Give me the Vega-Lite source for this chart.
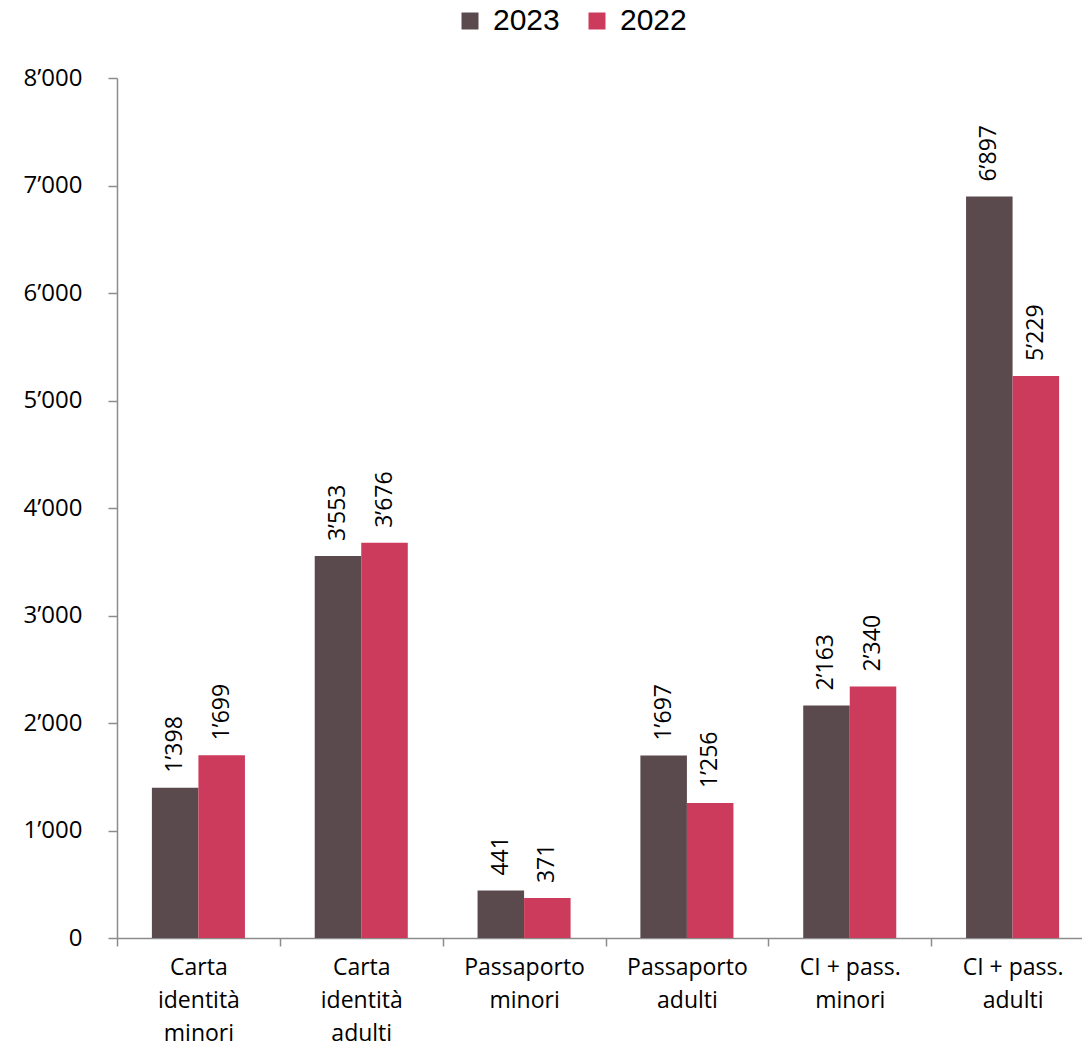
{
  "$schema": "https://vega.github.io/schema/vega-lite/v6.json",
  "autosize": {"type": "none"},
  "padding": {"left": 117, "top": 78, "right": 0, "bottom": 109},
  "width": 965,
  "height": 860,
  "config": {
    "locale": {"number": {"decimal": ".", "thousands": "’", "grouping": [3], "currency": ["", ""]}},
    "view": {"stroke": null},
    "font": "Open Sans"
  },
  "data": {
    "values": [
      {"categoria": "Carta identità minori", "anno": "2023", "valore": 1398},
      {"categoria": "Carta identità minori", "anno": "2022", "valore": 1699},
      {"categoria": "Carta identità adulti", "anno": "2023", "valore": 3553},
      {"categoria": "Carta identità adulti", "anno": "2022", "valore": 3676},
      {"categoria": "Passaporto minori", "anno": "2023", "valore": 441},
      {"categoria": "Passaporto minori", "anno": "2022", "valore": 371},
      {"categoria": "Passaporto adulti", "anno": "2023", "valore": 1697},
      {"categoria": "Passaporto adulti", "anno": "2022", "valore": 1256},
      {"categoria": "CI + pass. minori", "anno": "2023", "valore": 2163},
      {"categoria": "CI + pass. minori", "anno": "2022", "valore": 2340},
      {"categoria": "CI + pass. adulti", "anno": "2023", "valore": 6897},
      {"categoria": "CI + pass. adulti", "anno": "2022", "valore": 5229}
    ]
  },
  "encoding": {
    "x": {
      "field": "categoria", "type": "nominal", "sort": null,
      "scale": {"paddingInner": 0, "paddingOuter": 0, "range": [0, 977]},
      "axis": {
        "title": null, "labelAngle": 0, "tickBand": "extent",
        "domainColor": "#8c8c8c", "domainWidth": 1.5, "tickColor": "#8c8c8c", "tickWidth": 1.5, "tickSize": 8,
        "labelFont": "Open Sans", "labelFontSize": 23, "labelColor": "#000000", "labelLineHeight": 33, "labelPadding": 10,
        "labelExpr": "slice(datum.label, 0, 2) == 'CI' ? [slice(datum.label, 0, 10), slice(datum.label, 11)] : split(datum.label, ' ')"
      }
    },
    "xOffset": {"field": "anno", "type": "nominal", "sort": ["2023", "2022"], "scale": {"paddingInner": 0, "paddingOuter": 0.75}},
    "y": {
      "field": "valore", "type": "quantitative",
      "scale": {"domain": [0, 8000], "nice": false},
      "axis": {
        "title": null, "values": [0, 1000, 2000, 3000, 4000, 5000, 6000, 7000, 8000], "format": ",d", "grid": false,
        "domainColor": "#8c8c8c", "domainWidth": 1.5, "tickColor": "#8c8c8c", "tickWidth": 1.5, "tickSize": 9,
        "labelFont": "Open Sans", "labelFontSize": 24, "labelColor": "#000000", "labelPadding": 26
      }
    }
  },
  "layer": [
    {
      "mark": {"type": "bar"},
      "encoding": {
        "color": {
          "field": "anno", "type": "nominal",
          "scale": {"domain": ["2023", "2022"], "range": ["#5a4a4e", "#cc3a5c"]},
          "legend": {
            "title": null, "orient": "none", "direction": "horizontal", "legendX": 338, "legendY": -72,
            "symbolType": "square", "symbolSize": 289, "symbolStrokeWidth": 0, "symbolOpacity": 1,
            "labelFont": "Liberation Sans", "labelFontSize": 30, "labelColor": "#000000", "labelOffset": 8, "columnPadding": 22
          }
        }
      }
    },
    {
      "mark": {"type": "text", "angle": 270, "align": "left", "baseline": "middle", "dx": 15, "fontSize": 23, "font": "Open Sans", "color": "#000000"},
      "encoding": {
        "text": {"field": "valore", "type": "quantitative", "format": ",d"}
      }
    }
  ]
}
